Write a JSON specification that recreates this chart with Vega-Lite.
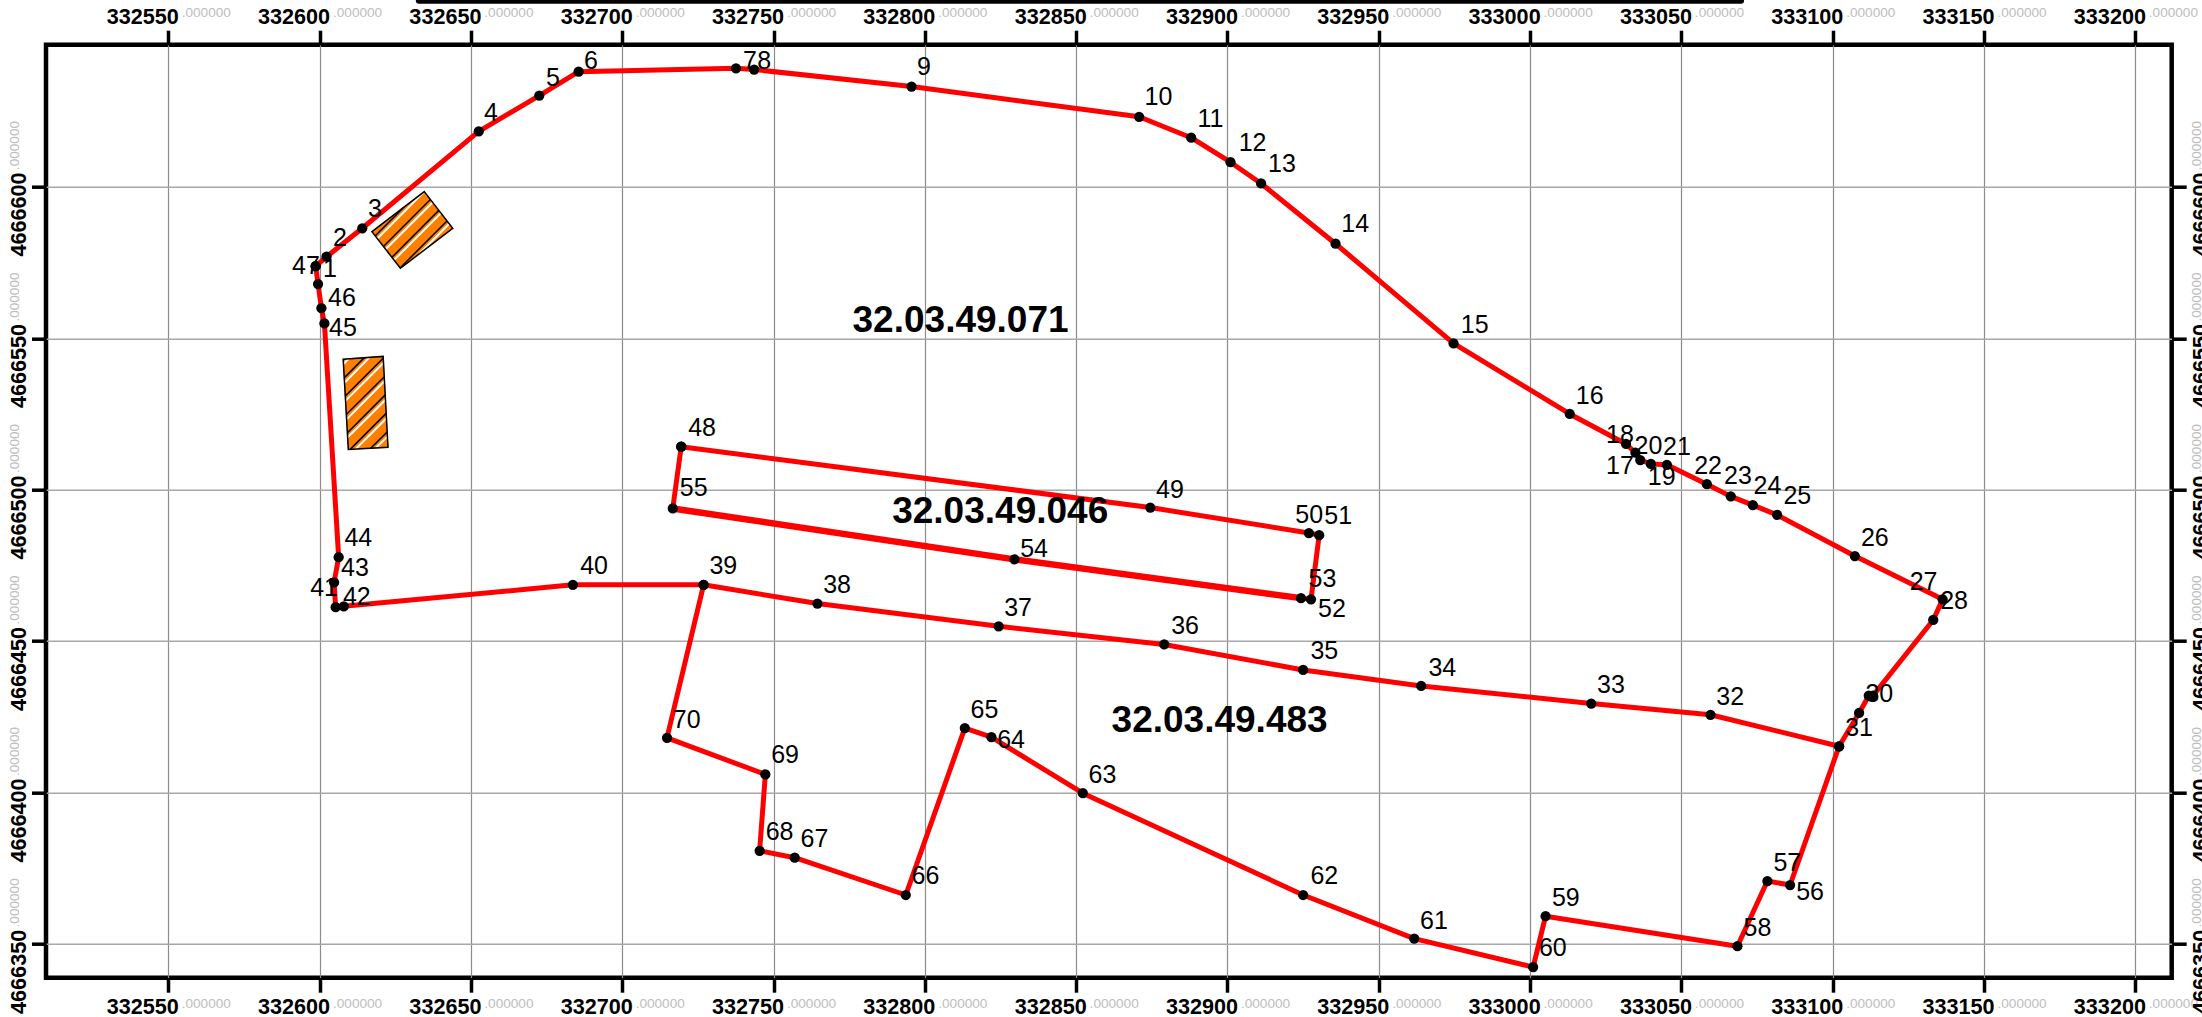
{
"$schema":"https://vega.github.io/schema/vega-lite/v6.json",
"width":2125.7,"height":933,
"autosize":{"type":"none"},
"padding":{"left":46,"top":44.7,"right":30.3,"bottom":39.3},
"background":"#ffffff",
"config":{"view":{"stroke":"#000000","strokeWidth":4.5,"fill":"#ffffff"},"font":"Liberation Sans"},
"datasets":{
"boundary":[
{"ring":"outer","seq":1,"e":332598.7,"n":4666573.8},
{"ring":"outer","seq":2,"e":332602.3,"n":4666576.9},
{"ring":"outer","seq":3,"e":332614.1,"n":4666586.3},
{"ring":"outer","seq":4,"e":332652.6,"n":4666618.3},
{"ring":"outer","seq":5,"e":332672.6,"n":4666630.1},
{"ring":"outer","seq":6,"e":332685.6,"n":4666638.0},
{"ring":"outer","seq":7,"e":332737.6,"n":4666639.1},
{"ring":"outer","seq":8,"e":332743.6,"n":4666638.7},
{"ring":"outer","seq":9,"e":332795.6,"n":4666633.1},
{"ring":"outer","seq":10,"e":332870.8,"n":4666623.1},
{"ring":"outer","seq":11,"e":332888.0,"n":4666616.2},
{"ring":"outer","seq":12,"e":332901.0,"n":4666608.1},
{"ring":"outer","seq":13,"e":332911.1,"n":4666601.1},
{"ring":"outer","seq":14,"e":332935.7,"n":4666581.2},
{"ring":"outer","seq":15,"e":332974.7,"n":4666548.3},
{"ring":"outer","seq":16,"e":333013.1,"n":4666525.0},
{"ring":"outer","seq":17,"e":333031.7,"n":4666515.1},
{"ring":"outer","seq":18,"e":333034.8,"n":4666512.2},
{"ring":"outer","seq":19,"e":333036.4,"n":4666509.8},
{"ring":"outer","seq":20,"e":333039.9,"n":4666508.5},
{"ring":"outer","seq":21,"e":333045.2,"n":4666508.2},
{"ring":"outer","seq":22,"e":333058.4,"n":4666501.8},
{"ring":"outer","seq":23,"e":333066.3,"n":4666497.8},
{"ring":"outer","seq":24,"e":333073.6,"n":4666494.9},
{"ring":"outer","seq":25,"e":333081.6,"n":4666491.7},
{"ring":"outer","seq":26,"e":333107.3,"n":4666478.1},
{"ring":"outer","seq":27,"e":333136.3,"n":4666463.8},
{"ring":"outer","seq":28,"e":333133.2,"n":4666457.0},
{"ring":"outer","seq":29,"e":333113.3,"n":4666432.0},
{"ring":"outer","seq":30,"e":333111.9,"n":4666432.0},
{"ring":"outer","seq":31,"e":333108.7,"n":4666426.3},
{"ring":"outer","seq":32,"e":333102.1,"n":4666415.3},
{"ring":"outer","seq":33,"e":333059.6,"n":4666425.7},
{"ring":"outer","seq":34,"e":333020.2,"n":4666429.4},
{"ring":"outer","seq":35,"e":332964.0,"n":4666435.2},
{"ring":"outer","seq":36,"e":332925.0,"n":4666440.5},
{"ring":"outer","seq":37,"e":332879.1,"n":4666448.9},
{"ring":"outer","seq":38,"e":332824.4,"n":4666454.9},
{"ring":"outer","seq":39,"e":332764.5,"n":4666462.4},
{"ring":"outer","seq":40,"e":332726.9,"n":4666468.6},
{"ring":"outer","seq":41,"e":332683.7,"n":4666468.6},
{"ring":"outer","seq":42,"e":332608.0,"n":4666461.5},
{"ring":"outer","seq":43,"e":332605.3,"n":4666461.2},
{"ring":"outer","seq":44,"e":332604.8,"n":4666469.4},
{"ring":"outer","seq":45,"e":332606.3,"n":4666477.7},
{"ring":"outer","seq":46,"e":332601.6,"n":4666554.9},
{"ring":"outer","seq":47,"e":332600.6,"n":4666559.9},
{"ring":"outer","seq":48,"e":332599.5,"n":4666567.9},
{"ring":"outer","seq":49,"e":332598.7,"n":4666573.8},
{"ring":"lower","seq":1,"e":332726.9,"n":4666468.6},
{"ring":"lower","seq":2,"e":332714.8,"n":4666418.1},
{"ring":"lower","seq":3,"e":332747.3,"n":4666406.0},
{"ring":"lower","seq":4,"e":332745.4,"n":4666380.8},
{"ring":"lower","seq":5,"e":332757.0,"n":4666378.5},
{"ring":"lower","seq":6,"e":332793.7,"n":4666366.2},
{"ring":"lower","seq":7,"e":332813.2,"n":4666421.3},
{"ring":"lower","seq":8,"e":332822.0,"n":4666418.3},
{"ring":"lower","seq":9,"e":332852.2,"n":4666399.8},
{"ring":"lower","seq":10,"e":332925.0,"n":4666366.2},
{"ring":"lower","seq":11,"e":332961.7,"n":4666351.8},
{"ring":"lower","seq":12,"e":333001.0,"n":4666342.4},
{"ring":"lower","seq":13,"e":333005.1,"n":4666359.2},
{"ring":"lower","seq":14,"e":333068.5,"n":4666349.3},
{"ring":"lower","seq":15,"e":333078.4,"n":4666370.8},
{"ring":"lower","seq":16,"e":333085.9,"n":4666369.5},
{"ring":"lower","seq":17,"e":333102.1,"n":4666415.3},
{"ring":"inner","seq":1,"e":332719.5,"n":4666514.2},
{"ring":"inner","seq":2,"e":332874.5,"n":4666494.1},
{"ring":"inner","seq":3,"e":332926.9,"n":4666485.7},
{"ring":"inner","seq":4,"e":332930.3,"n":4666485.0},
{"ring":"inner","seq":5,"e":332927.6,"n":4666463.8},
{"ring":"inner","seq":6,"e":332924.3,"n":4666464.2},
{"ring":"inner","seq":7,"e":332829.6,"n":4666477.0},
{"ring":"inner","seq":8,"e":332716.7,"n":4666493.8},
{"ring":"inner","seq":9,"e":332719.5,"n":4666514.2}
],
"labels":[
{"label":"1","e":332603.4,"n":4666573.2},{"label":"2","e":332606.7,"n":4666583.4},{"label":"3","e":332618.3,"n":4666593.0},{"label":"4","e":332656.6,"n":4666624.7},{"label":"5","e":332677.1,"n":4666636.2},{"label":"6","e":332689.7,"n":4666641.8},{"label":"7","e":332742.2,"n":4666641.8},{"label":"8","e":332746.9,"n":4666641.8},{"label":"9","e":332799.7,"n":4666639.8},{"label":"10","e":332877.2,"n":4666630.1},
{"label":"11","e":332894.4,"n":4666622.7},{"label":"12","e":332908.3,"n":4666614.8},{"label":"13","e":332918.0,"n":4666607.8},{"label":"14","e":332942.2,"n":4666588.0},{"label":"15","e":332981.7,"n":4666554.6},{"label":"16","e":333019.7,"n":4666531.4},{"label":"17","e":333029.7,"n":4666508.2},{"label":"18","e":333029.7,"n":4666518.3},{"label":"19","e":333043.5,"n":4666504.5},{"label":"20","e":333039.1,"n":4666514.8},
{"label":"21","e":333048.5,"n":4666514.4},{"label":"22","e":333058.8,"n":4666508.1},{"label":"23","e":333068.7,"n":4666504.9},{"label":"24","e":333078.4,"n":4666501.5},{"label":"25","e":333088.3,"n":4666498.2},{"label":"26","e":333113.9,"n":4666484.3},{"label":"27","e":333130.0,"n":4666470.0},{"label":"28","e":333140.1,"n":4666463.6},{"label":"30","e":333115.4,"n":4666432.8},{"label":"31","e":333108.7,"n":4666421.8},
{"label":"32","e":333066.1,"n":4666431.8},{"label":"33","e":333026.7,"n":4666435.9},{"label":"34","e":332971.0,"n":4666441.5},{"label":"35","e":332932.0,"n":4666447.0},{"label":"36","e":332886.0,"n":4666455.4},{"label":"37","e":332830.8,"n":4666461.4},{"label":"38","e":332771.0,"n":4666468.8},{"label":"39","e":332733.4,"n":4666475.3},{"label":"40","e":332690.7,"n":4666475.3},
{"label":"41","e":332601.5,"n":4666468.0},{"label":"42","e":332612.3,"n":4666464.9},{"label":"43","e":332611.7,"n":4666474.4},{"label":"44","e":332612.8,"n":4666484.3},{"label":"45","e":332607.7,"n":4666553.7},{"label":"46","e":332607.4,"n":4666563.6},{"label":"47","e":332595.5,"n":4666574.2},{"label":"48","e":332726.4,"n":4666520.7},{"label":"49","e":332881.0,"n":4666500.3},{"label":"50","e":332927.0,"n":4666492.0},
{"label":"51","e":332936.6,"n":4666491.7},{"label":"52","e":332934.5,"n":4666461.1},{"label":"53","e":332931.4,"n":4666470.8},{"label":"54","e":332836.1,"n":4666480.9},{"label":"55","e":332723.6,"n":4666500.8},{"label":"56","e":333092.5,"n":4666367.6},{"label":"57","e":333085.0,"n":4666377.2},{"label":"58","e":333075.1,"n":4666355.6},{"label":"59","e":333011.8,"n":4666365.7},{"label":"60","e":333007.5,"n":4666349.0},
{"label":"61","e":332968.2,"n":4666358.1},{"label":"62","e":332932.0,"n":4666372.9},{"label":"63","e":332858.7,"n":4666406.2},{"label":"64","e":332828.5,"n":4666417.8},{"label":"65","e":332819.7,"n":4666427.6},{"label":"66","e":332800.2,"n":4666372.9},{"label":"67","e":332763.5,"n":4666384.9},{"label":"68","e":332752.0,"n":4666387.3},{"label":"69","e":332753.8,"n":4666412.8},{"label":"70","e":332721.3,"n":4666424.3}
],
"parcels":[
{"label":"32.03.49.071","e":332811.8,"n":4666556.0},
{"label":"32.03.49.046","e":332824.9,"n":4666493.0},
{"label":"32.03.49.483","e":332897.4,"n":4666423.9}
],
"sheds":[
{"shed":"A","seq":1,"e":332634.6,"n":4666598.4},{"shed":"A","seq":2,"e":332644.0,"n":4666586.3},{"shed":"A","seq":3,"e":332626.7,"n":4666573.1},{"shed":"A","seq":4,"e":332617.3,"n":4666585.2},
{"shed":"B","seq":1,"e":332607.8,"n":4666543.1},{"shed":"B","seq":2,"e":332621.0,"n":4666544.0},{"shed":"B","seq":3,"e":332622.6,"n":4666514.0},{"shed":"B","seq":4,"e":332609.5,"n":4666513.3}
],
"hatchBlack":[
{"e":332618.4,"n":4666583.8,"e2":332627.6,"n2":4666593.0},
{"e":332621.1,"n":4666580.3,"e2":332636.6,"n2":4666595.8},
{"e":332623.9,"n":4666576.7,"e2":332639.4,"n2":4666592.2},
{"e":332626.6,"n":4666573.2,"e2":332642.1,"n2":4666588.7},
{"e":332608.2,"n":4666537.0,"e2":332614.8,"n2":4666543.6},
{"e":332608.5,"n":4666530.9,"e2":332621.0,"n2":4666543.4},
{"e":332608.9,"n":4666524.9,"e2":332621.4,"n2":4666537.3},
{"e":332609.2,"n":4666518.8,"e2":332621.7,"n2":4666531.3},
{"e":332610.2,"n":4666513.4,"e2":332622.0,"n2":4666525.2},
{"e":332616.9,"n":4666513.7,"e2":332622.4,"n2":4666519.1}
],
"hatchWhite":[
{"e":332619.1,"n":4666582.9,"e2":332634.6,"n2":4666598.4},
{"e":332621.8,"n":4666579.4,"e2":332637.3,"n2":4666594.8},
{"e":332624.6,"n":4666575.8,"e2":332640.1,"n2":4666591.3},
{"e":332632.9,"n":4666577.8,"e2":332642.8,"n2":4666587.8},
{"e":332607.9,"n":4666541.5,"e2":332609.7,"n2":4666543.3},
{"e":332608.3,"n":4666535.4,"e2":332616.4,"n2":4666543.6},
{"e":332608.6,"n":4666529.4,"e2":332621.1,"n2":4666541.8},
{"e":332609.0,"n":4666523.3,"e2":332621.4,"n2":4666535.8},
{"e":332609.3,"n":4666517.3,"e2":332621.8,"n2":4666529.7},
{"e":332611.9,"n":4666513.4,"e2":332622.1,"n2":4666523.6},
{"e":332618.6,"n":4666513.8,"e2":332622.5,"n2":4666517.6}
],
"bar":[{"e":332632.8,"e2":333069.7,"n":4666661.4}]
},
"resolve":{"axis":{"x":"independent","y":"independent"}},
"layer":[
{"data":{"name":"boundary"},"mark":{"type":"point","opacity":0},
"encoding":{
"x":{"field":"e","type":"quantitative","scale":{"domain":[332509.6,333212.0],"nice":false,"zero":false},
"axis":{"orient":"bottom","title":null,"values":[332550,332600,332650,332700,332750,332800,332850,332900,332950,333000,333050,333100,333150,333200],"format":"d","domain":false,"grid":true,"gridColor":"#8c8c8c","gridWidth":1.2,"ticks":true,"tickColor":"#000000","tickWidth":3.5,"tickSize":14.5,"labelOffset":-26,"labelPadding":21,"labelFont":"Liberation Sans","labelFontWeight":"bold","labelFontSize":21.6,"labelColor":"#000000","labelAngle":0,"labelAlign":"center","labelBaseline":"alphabetic","labelOverlap":false,"labelBound":false,"labelFlush":false}},
"y":{"field":"n","type":"quantitative","scale":{"domain":[4666338.9,4666646.9],"nice":false,"zero":false},
"axis":{"orient":"left","title":null,"values":[4666350,4666400,4666450,4666500,4666550,4666600],"format":"d","domain":false,"grid":true,"gridColor":"#a8a8a8","gridWidth":1.5,"ticks":true,"tickColor":"#000000","tickWidth":3.5,"tickSize":14.5,"labelOffset":27.3,"labelPadding":6.5,"labelFont":"Liberation Sans","labelFontWeight":"bold","labelFontSize":21.6,"labelColor":"#000000","labelAngle":-90,"labelAlign":"center","labelBaseline":"alphabetic","labelOverlap":false,"labelBound":false,"labelFlush":false}}
}},
{"data":{"name":"boundary"},"mark":{"type":"point","opacity":0},
"encoding":{
"x":{"field":"e","type":"quantitative","scale":{"domain":[332509.6,333212.0],"nice":false,"zero":false},
"axis":{"orient":"top","title":null,"values":[332550,332600,332650,332700,332750,332800,332850,332900,332950,333000,333050,333100,333150,333200],"format":"d","domain":false,"grid":false,"ticks":true,"tickColor":"#000000","tickWidth":3.5,"tickSize":14.5,"labelOffset":-26,"labelPadding":6.7,"labelFont":"Liberation Sans","labelFontWeight":"bold","labelFontSize":21.6,"labelColor":"#000000","labelAngle":0,"labelAlign":"center","labelBaseline":"alphabetic","labelOverlap":false,"labelBound":false,"labelFlush":false}},
"y":{"field":"n","type":"quantitative","scale":{"domain":[4666338.9,4666646.9],"nice":false,"zero":false},
"axis":{"orient":"right","title":null,"values":[4666350,4666400,4666450,4666500,4666550,4666600],"format":"d","domain":false,"grid":false,"ticks":true,"tickColor":"#000000","tickWidth":3.5,"tickSize":14.5,"labelOffset":27.3,"labelPadding":21,"labelFont":"Liberation Sans","labelFontWeight":"bold","labelFontSize":21.6,"labelColor":"#000000","labelAngle":-90,"labelAlign":"center","labelBaseline":"alphabetic","labelOverlap":false,"labelBound":false,"labelFlush":false}}
}},
{"data":{"name":"boundary"},"mark":{"type":"point","opacity":0},
"encoding":{
"x":{"field":"e","type":"quantitative","scale":{"domain":[332509.6,333212.0],"nice":false,"zero":false},
"axis":{"orient":"bottom","title":null,"values":[332550,332600,332650,332700,332750,332800,332850,332900,332950,333000,333050,333100,333150,333200],"labelExpr":"'.000000'","domain":false,"grid":false,"ticks":true,"tickOpacity":0,"tickSize":14.5,"labelOffset":37.5,"labelPadding":15,"labelFont":"Liberation Sans","labelFontSize":13.6,"labelColor":"#bdbdbd","labelAngle":0,"labelAlign":"center","labelBaseline":"alphabetic","labelOverlap":false,"labelBound":false,"labelFlush":false}},
"y":{"field":"n","type":"quantitative","scale":{"domain":[4666338.9,4666646.9],"nice":false,"zero":false},
"axis":{"orient":"left","title":null,"values":[4666350,4666400,4666450,4666500,4666550,4666600],"labelExpr":"'.000000'","domain":false,"grid":false,"ticks":true,"tickOpacity":0,"tickSize":14.5,"labelOffset":-41.7,"labelPadding":13.5,"labelFont":"Liberation Sans","labelFontSize":13.6,"labelColor":"#bdbdbd","labelAngle":-90,"labelAlign":"center","labelBaseline":"alphabetic","labelOverlap":false,"labelBound":false,"labelFlush":false}}
}},
{"data":{"name":"boundary"},"mark":{"type":"point","opacity":0},
"encoding":{
"x":{"field":"e","type":"quantitative","scale":{"domain":[332509.6,333212.0],"nice":false,"zero":false},
"axis":{"orient":"top","title":null,"values":[332550,332600,332650,332700,332750,332800,332850,332900,332950,333000,333050,333100,333150,333200],"labelExpr":"'.000000'","domain":false,"grid":false,"ticks":true,"tickOpacity":0,"tickSize":14.5,"labelOffset":37.5,"labelPadding":13.7,"labelFont":"Liberation Sans","labelFontSize":13.6,"labelColor":"#bdbdbd","labelAngle":0,"labelAlign":"center","labelBaseline":"alphabetic","labelOverlap":false,"labelBound":false,"labelFlush":false}},
"y":{"field":"n","type":"quantitative","scale":{"domain":[4666338.9,4666646.9],"nice":false,"zero":false},
"axis":{"orient":"right","title":null,"values":[4666350,4666400,4666450,4666500,4666550,4666600],"labelExpr":"'.000000'","domain":false,"grid":false,"ticks":true,"tickOpacity":0,"tickSize":14.5,"labelOffset":-41.7,"labelPadding":14.5,"labelFont":"Liberation Sans","labelFontSize":13.6,"labelColor":"#bdbdbd","labelAngle":-90,"labelAlign":"center","labelBaseline":"alphabetic","labelOverlap":false,"labelBound":false,"labelFlush":false}}
}},
{"data":{"name":"sheds"},"mark":{"type":"line","interpolate":"linear-closed","fill":"#ff8000","stroke":"#ff8000","strokeWidth":1},
"encoding":{"x":{"field":"e","type":"quantitative","axis":null,"scale":{"domain":[332509.6,333212.0],"nice":false,"zero":false}},"y":{"field":"n","type":"quantitative","axis":null,"scale":{"domain":[4666338.9,4666646.9],"nice":false,"zero":false}},"detail":{"field":"shed"},"order":{"field":"seq"}}},
{"data":{"name":"hatchWhite"},"mark":{"type":"rule","stroke":"#ffffff","strokeWidth":2},
"encoding":{"x":{"field":"e","type":"quantitative","axis":null,"scale":{"domain":[332509.6,333212.0],"nice":false,"zero":false}},"x2":{"field":"e2"},"y":{"field":"n","type":"quantitative","axis":null,"scale":{"domain":[4666338.9,4666646.9],"nice":false,"zero":false}},"y2":{"field":"n2"}}},
{"data":{"name":"hatchBlack"},"mark":{"type":"rule","stroke":"#000000","strokeWidth":1.5},
"encoding":{"x":{"field":"e","type":"quantitative","axis":null,"scale":{"domain":[332509.6,333212.0],"nice":false,"zero":false}},"x2":{"field":"e2"},"y":{"field":"n","type":"quantitative","axis":null,"scale":{"domain":[4666338.9,4666646.9],"nice":false,"zero":false}},"y2":{"field":"n2"}}},
{"data":{"name":"sheds"},"mark":{"type":"line","interpolate":"linear-closed","stroke":"#000000","strokeWidth":1.5},
"encoding":{"x":{"field":"e","type":"quantitative","axis":null,"scale":{"domain":[332509.6,333212.0],"nice":false,"zero":false}},"y":{"field":"n","type":"quantitative","axis":null,"scale":{"domain":[4666338.9,4666646.9],"nice":false,"zero":false}},"detail":{"field":"shed"},"order":{"field":"seq"}}},
{"data":{"name":"boundary"},"mark":{"type":"line","stroke":"#ff0000","strokeWidth":5,"strokeJoin":"round"},
"encoding":{"x":{"field":"e","type":"quantitative","axis":null,"scale":{"domain":[332509.6,333212.0],"nice":false,"zero":false}},"y":{"field":"n","type":"quantitative","axis":null,"scale":{"domain":[4666338.9,4666646.9],"nice":false,"zero":false}},"detail":{"field":"ring"},"order":{"field":"seq"}}},
{"data":{"name":"boundary"},"transform":[{"filter":"datum.ring=='inner' && datum.seq>=6 && datum.seq<=8"}],"mark":{"type":"line","stroke":"#ff0000","strokeWidth":6.5},
"encoding":{"x":{"field":"e","type":"quantitative","axis":null,"scale":{"domain":[332509.6,333212.0],"nice":false,"zero":false}},"y":{"field":"n","type":"quantitative","axis":null,"scale":{"domain":[4666338.9,4666646.9],"nice":false,"zero":false}},"order":{"field":"seq"}}},
{"data":{"name":"boundary"},"mark":{"type":"point","filled":true,"fill":"#000000","stroke":null,"opacity":1,"size":105},
"encoding":{"x":{"field":"e","type":"quantitative","axis":null,"scale":{"domain":[332509.6,333212.0],"nice":false,"zero":false}},"y":{"field":"n","type":"quantitative","axis":null,"scale":{"domain":[4666338.9,4666646.9],"nice":false,"zero":false}}}},
{"data":{"name":"labels"},"mark":{"type":"text","font":"Liberation Sans","fontSize":25,"fill":"#000000","align":"center","baseline":"middle","dy":1},
"encoding":{"x":{"field":"e","type":"quantitative","axis":null,"scale":{"domain":[332509.6,333212.0],"nice":false,"zero":false}},"y":{"field":"n","type":"quantitative","axis":null,"scale":{"domain":[4666338.9,4666646.9],"nice":false,"zero":false}},"text":{"field":"label","type":"nominal"}}},
{"data":{"name":"parcels"},"mark":{"type":"text","font":"Liberation Sans","fontWeight":"bold","fontSize":37,"fill":"#000000","align":"center","baseline":"middle","dy":1},
"encoding":{"x":{"field":"e","type":"quantitative","axis":null,"scale":{"domain":[332509.6,333212.0],"nice":false,"zero":false}},"y":{"field":"n","type":"quantitative","axis":null,"scale":{"domain":[4666338.9,4666646.9],"nice":false,"zero":false}},"text":{"field":"label","type":"nominal"}}},
{"data":{"name":"bar"},"mark":{"type":"rule","stroke":"#000000","strokeWidth":6,"strokeCap":"round","clip":false},
"encoding":{"x":{"field":"e","type":"quantitative","axis":null,"scale":{"domain":[332509.6,333212.0],"nice":false,"zero":false}},"x2":{"field":"e2"},"y":{"field":"n","type":"quantitative","axis":null,"scale":{"domain":[4666338.9,4666646.9],"nice":false,"zero":false}}}}
]
}
